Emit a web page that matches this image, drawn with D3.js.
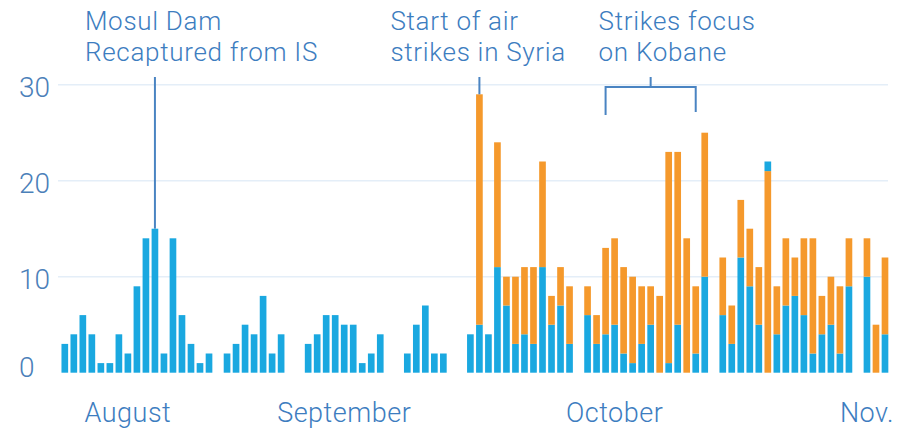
<!DOCTYPE html>
<html>
<head>
<meta charset="utf-8">
<script src="https://cdn.jsdelivr.net/npm/d3@7"></script>
<style>
  body { margin: 0; background: #fff; }
  text { font-family: Roboto, "Open Sans", sans-serif; font-weight: 300; }
</style>
</head>
<body>
<script>
// daily strike counts, days without strikes are left out
var days = [
  "08-08","08-09","08-10","08-11","08-12","08-13","08-14","08-15","08-16","08-17",
  "08-18","08-19","08-20","08-21","08-22","08-23","08-24",
  "08-26","08-27","08-28","08-29","08-30","08-31","09-01",
  "09-04","09-05","09-06","09-07","09-08","09-09","09-10","09-11","09-12",
  "09-15","09-16","09-17","09-18","09-19",
  "09-22","09-23","09-24","09-25","09-26","09-27","09-28","09-29","09-30","10-01","10-02","10-03",
  "10-05","10-06","10-07","10-08","10-09","10-10","10-11","10-12","10-13","10-14","10-15","10-16","10-17","10-18",
  "10-20","10-21","10-22","10-23","10-24","10-25","10-26","10-27","10-28","10-29","10-30","10-31","11-01","11-02","11-03",
  "11-05","11-06","11-07"
];
var iraq = [
  3,4,6,4,1,1,4,2,9,14,15,2,14,6,3,1,2,
  2,3,5,4,8,2,4,
  3,4,6,6,5,5,1,2,4,
  2,5,7,2,2,
  4,5,4,11,7,3,4,3,11,5,7,3,
  6,3,4,5,2,1,3,5,0,1,5,0,2,10,
  6,3,12,9,5,1,4,7,8,6,2,4,5,2,9,
  10,0,4
];
var syria = [
  0,0,0,0,0,0,0,0,0,0,0,0,0,0,0,0,0,
  0,0,0,0,0,0,0,
  0,0,0,0,0,0,0,0,0,
  0,0,0,0,0,
  0,24,0,13,3,7,7,8,11,3,4,6,
  3,3,9,9,9,9,6,4,8,22,18,14,7,15,
  6,4,6,6,6,21,5,7,4,8,12,4,5,7,5,
  4,5,8
];
// on this day the Syria part sits under the Iraq part
var flippedDays = ["10-25"];

var yTicks = [0, 10, 20, 30];
var gridTicks = [10, 20, 30];
var months = ["August", "September", "October", "Nov."];
var monthDays = ["08-15", "09-08", "10-08", "11-05"];

var annoText = [["Mosul Dam", "Recaptured from IS"], ["Start of air", "strikes in Syria"], ["Strikes focus", "on Kobane"]];
var annoDays = ["08-18", "09-23", null];
var bracketDays = ["10-07", "10-17"];

var width = 904, height = 429;
var blue = "#1aa8e0", orange = "#f5992c", ink = "#3d7dbf";

var fmt = d3.timeFormat("%m-%d");
var allDays = d3.timeDay.range(new Date(2014, 7, 8), new Date(2014, 10, 8)).map(fmt);

var x = d3.scaleBand()
  .domain(allDays)
  .range([60.3, 889.5])
  .paddingInner(0.26)
  .paddingOuter(0.13);
var y = d3.scaleLinear().domain([0, 30]).range([372.7, 84.7]);
var cx = function(d) { return x(d) + x.bandwidth() / 2; };

var svg = d3.select("body").append("svg")
  .attr("width", width)
  .attr("height", height);

// gridlines
svg.append("g").selectAll("line")
  .data(gridTicks)
  .enter().append("line")
  .attr("x1", 58).attr("x2", 888)
  .attr("y1", function(d) { return y(d); })
  .attr("y2", function(d) { return y(d); })
  .attr("stroke", "#e4eef8")
  .attr("stroke-width", 1.5);

// y labels
svg.append("g").selectAll("text")
  .data(yTicks)
  .enter().append("text")
  .attr("x", 19)
  .attr("y", function(d) { return y(d) + (d == 0 ? -5 : 3); })
  .attr("dominant-baseline", "central")
  .attr("font-size", 28)
  .attr("fill", "#4b80b9")
  .text(function(d) { return d; });

// stacked bars
var rows = days.map(function(d, i) {
  return { day: d, iraq: iraq[i], syria: syria[i], flip: flippedDays.indexOf(d) >= 0 };
});
var segs = [];
rows.forEach(function(r) {
  var order = r.flip ? [["syria", orange], ["iraq", blue]] : [["iraq", blue], ["syria", orange]];
  var base = 0;
  order.forEach(function(o) {
    var v = r[o[0]];
    if (v > 0) segs.push({ day: r.day, y0: base, y1: base + v, color: o[1] });
    base += v;
  });
});

svg.append("g").selectAll("rect")
  .data(segs)
  .enter().append("rect")
  .attr("x", function(d) { return x(d.day); })
  .attr("width", x.bandwidth())
  .attr("y", function(d) { return y(d.y1); })
  .attr("height", function(d) { return y(d.y0) - y(d.y1); })
  .attr("fill", function(d) { return d.color; });

// month labels
svg.append("g").selectAll("text")
  .data(months)
  .enter().append("text")
  .attr("x", function(d, i) { return cx(monthDays[i]); })
  .attr("y", 422)
  .attr("text-anchor", "middle")
  .attr("font-size", 27)
  .attr("letter-spacing", 0.5)
  .attr("fill", ink)
  .text(function(d) { return d; });

// annotations, one text per line
var total = function(d) { var i = days.indexOf(d); return iraq[i] + syria[i]; };
var annoX = [cx(annoDays[0]) - 70, cx(annoDays[1]) - 89, cx(bracketDays[0]) - 7];

annoText.forEach(function(lines, k) {
  lines.forEach(function(s, j) {
    svg.append("text")
      .attr("x", annoX[k])
      .attr("y", 30 + j * 31)
      .attr("font-size", 26)
      .attr("letter-spacing", 0.7)
      .attr("fill", ink)
      .text(s);
  });
});

var ann = svg.append("g").attr("stroke", "#4a84c2").attr("stroke-width", 2).attr("fill", "none");
annoDays.forEach(function(d) {
  if (!d) return;
  ann.append("line")
    .attr("x1", cx(d)).attr("x2", cx(d))
    .attr("y1", 77).attr("y2", y(total(d)));
});

var bx0 = cx(bracketDays[0]), bx1 = cx(bracketDays[1]);
ann.append("path")
  .attr("d", "M" + bx0 + "," + 115 + "V" + 87 + "H" + bx1 + "V" + 112);
ann.append("line")
  .attr("x1", (bx0 + bx1) / 2).attr("x2", (bx0 + bx1) / 2)
  .attr("y1", 77).attr("y2", 87);
</script>
</body>
</html>
